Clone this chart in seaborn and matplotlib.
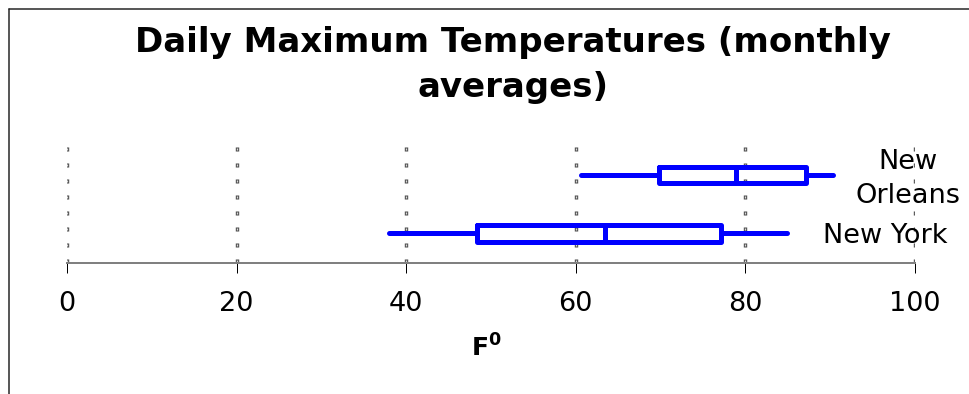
import numpy as np
import pandas as pd
import matplotlib
matplotlib.use("Agg")
import matplotlib.pyplot as plt
from matplotlib.lines import Line2D
import seaborn as sns

# Monthly-average daily maximum temperatures, five-number summaries (°F)
cities = ["New Orleans", "New York"]
city_labels = ["New\nOrleans", "New York"]
new_orleans = [60.6, 69.8, 78.9, 87.1, 90.3]   # min, Q1, median, Q3, max
new_york = [38.0, 48.4, 63.4, 77.1, 84.9]      # min, Q1, median, Q3, max
x_ticks = [0, 20, 40, 60, 80, 100]
title = "Daily Maximum Temperatures (monthly\naverages)"
x_label = r"$\mathbf{F}^{\mathbf{0}}$"

PX = 72 / 100  # points per pixel at 100 dpi

sns.set_style("white")
plt.rcParams["font.family"] = ["DejaVu Sans"]
plt.rcParams["mathtext.fontset"] = "dejavusans"
plt.rcParams["lines.scale_dashes"] = False

W, H = 969, 394
fig = plt.figure(figsize=(W / 100, H / 100), dpi=100)
ax = fig.add_axes([67 / W, 1 - 262.5 / H, 848 / W, 116.5 / H])

df = pd.DataFrame({
    "city": np.repeat(cities, 5),
    "temp": new_orleans + new_york,
})

sns.boxplot(
    data=df, x="temp", y="city", order=cities, orient="h",
    whis=(0, 100), width=0.28, fill=False, color="#0000ff", saturation=1,
    linewidth=5 * PX, showcaps=False,
    whiskerprops=dict(solid_capstyle="round"),
    ax=ax,
)

ax.set_xlim(0, 100)
ax.set_ylim(len(cities) - 0.5, -0.5)
ax.autoscale(False)
ax.set_xticks(x_ticks)
ax.set_yticks([])
ax.set_ylabel("")
ax.tick_params(axis="x", bottom=True, direction="out", length=9.5 * PX,
               width=1 * PX, color="black", labelsize=19.5, pad=13.5,
               labelcolor="black")

for side in ["top", "right", "left"]:
    ax.spines[side].set_visible(False)
ax.spines["bottom"].set_color("#808080")
ax.spines["bottom"].set_linewidth(2 * PX)

# dotted vertical gridlines made of small hollow squares
ax.xaxis.grid(True, color="#4d4d4d", linewidth=3.4 * PX,
              linestyle=(0, (4 * PX, 12 * PX)))
ax.yaxis.grid(False)
for xt in x_ticks:
    ax.plot([xt, xt], [0, 1], transform=ax.get_xaxis_transform(),
            color="#dcdcdc", linewidth=1.3 * PX,
            linestyle=(15 * PX, (2 * PX, 14 * PX)),
            scalex=False, scaley=False, zorder=0.6)

# category names to the right of each box
ax.text(99.2, 0.06, city_labels[0], ha="center", va="center",
        fontsize=19.5, linespacing=1.40, color="black")
ax.text(96.5, 1.04, city_labels[1], ha="center", va="center",
        fontsize=19.5, color="black")

ax.set_xlabel(x_label, fontsize=18, color="black")
ax.xaxis.set_label_coords(0.495, -0.62)

fig.text(513 / W, 1 - 97 / H, title, ha="center", va="baseline",
         fontsize=24.5, fontweight="bold", linespacing=1.46, color="black")

# chart-area frame: top and left edges
fx, fy = 9 / W, 1 - 9 / H
fig.add_artist(Line2D([fx, 1.0], [fy, fy], transform=fig.transFigure,
                      color="#222222", linewidth=1.5 * PX))
fig.add_artist(Line2D([fx, fx], [fy, 0.0], transform=fig.transFigure,
                      color="#222222", linewidth=1.5 * PX))

fig.savefig("out.png", dpi=100)
